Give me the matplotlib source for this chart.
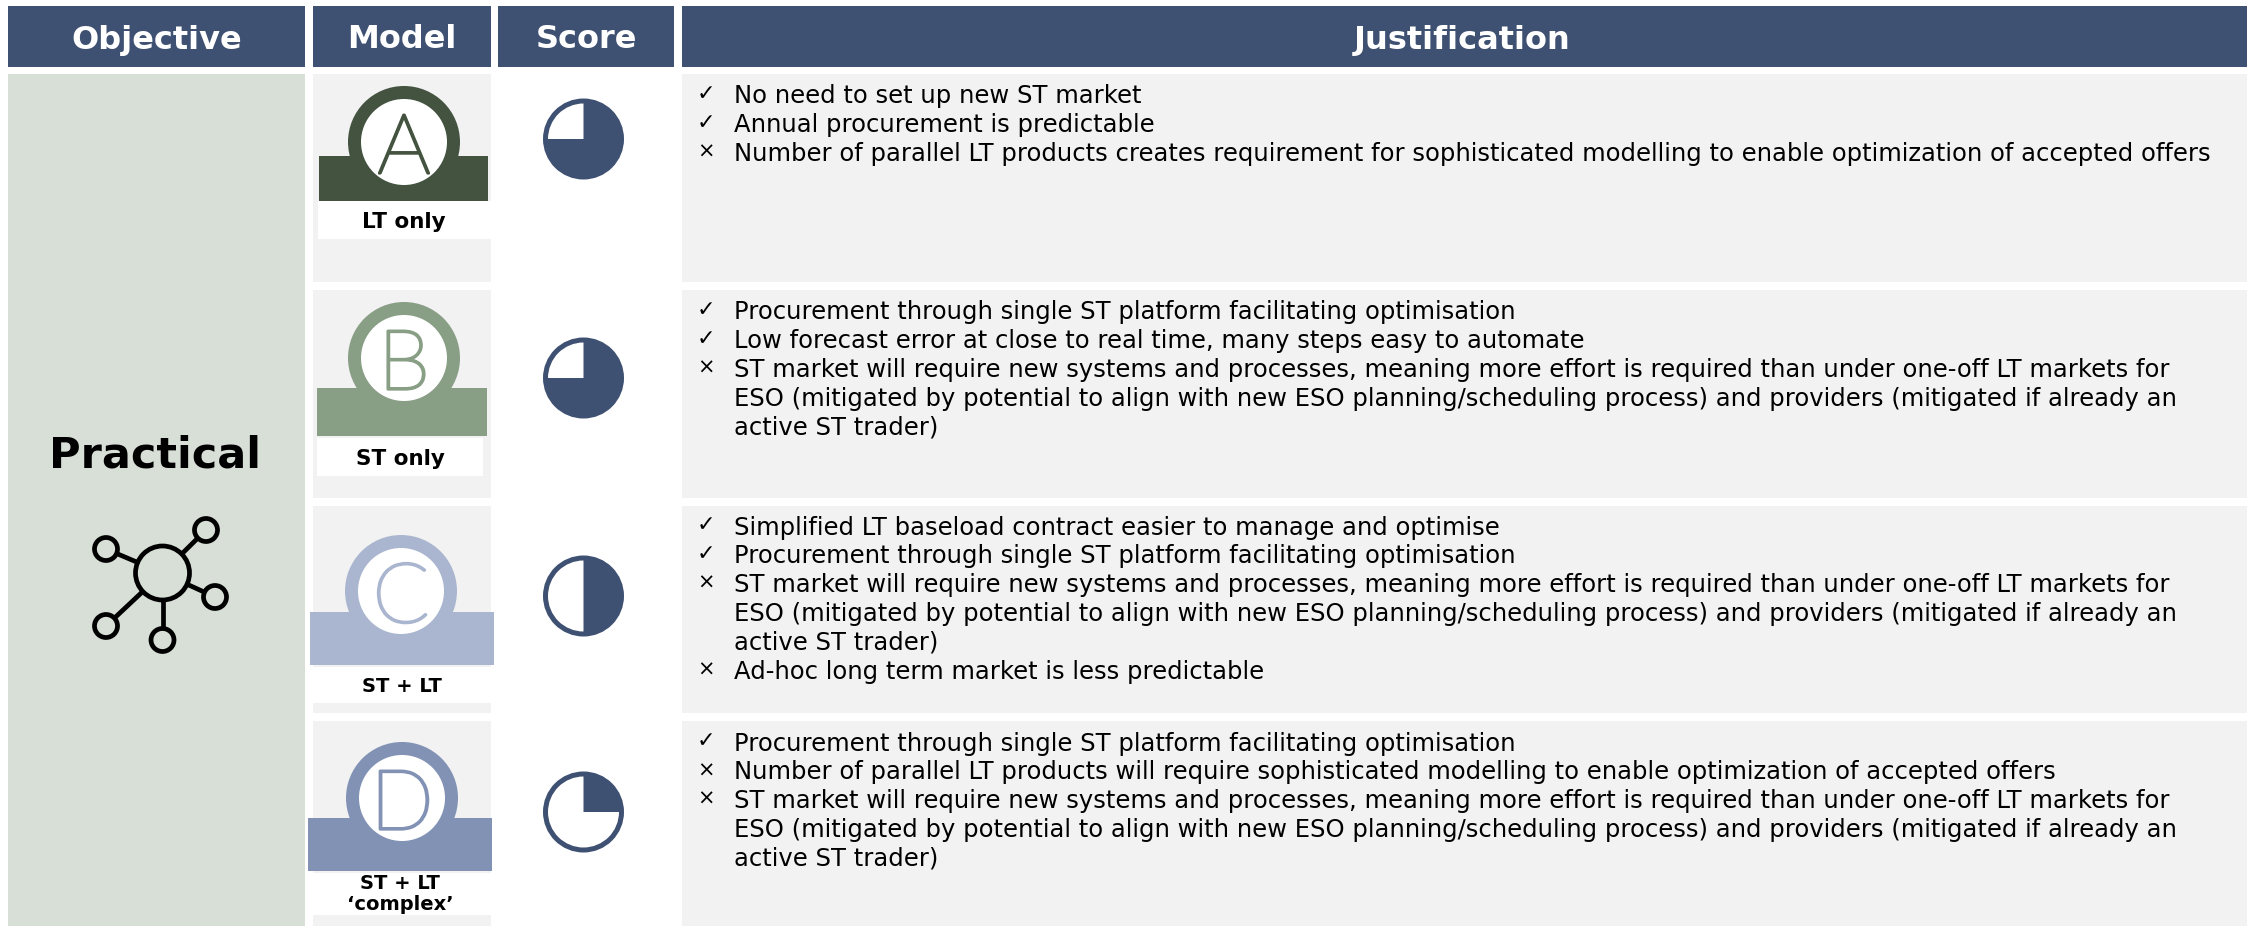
import matplotlib
matplotlib.use("Agg")
import matplotlib.pyplot as plt
import matplotlib.patheffects as pe
from matplotlib.patches import Rectangle, Circle, Wedge

# ------------------------------------------------------------
# Table content
# ------------------------------------------------------------
HEADERS = ["Objective", "Model", "Score", "Justification"]
OBJECTIVE = "Practical"
MODELS = ["A", "B", "C", "D"]
MODEL_LABELS = ["LT only", "ST only", "ST + LT", "ST + LT\n\u2018complex\u2019"]
SCORES = [0.75, 0.75, 0.50, 0.25]

LONG_ST = [
    "ST market will require new systems and processes, meaning more effort is required than under one-off LT markets for",
    "ESO (mitigated by potential to align with new ESO planning/scheduling process) and providers (mitigated if already an",
    "active ST trader)",
]
ROW_A = ["No need to set up new ST market",
         "Annual procurement is predictable",
         "Number of parallel LT products creates requirement for sophisticated modelling to enable optimization of accepted offers"]
MARK_A = ["y", "y", "n"]
ROW_B = ["Procurement through single ST platform facilitating optimisation",
         "Low forecast error at close to real time, many steps easy to automate"] + LONG_ST
MARK_B = ["y", "y", "n", "", ""]
ROW_C = ["Simplified LT baseload contract easier to manage and optimise",
         "Procurement through single ST platform facilitating optimisation"] + LONG_ST + [
         "Ad-hoc long term market is less predictable"]
MARK_C = ["y", "y", "n", "", "", "n"]
ROW_D = ["Procurement through single ST platform facilitating optimisation",
         "Number of parallel LT products will require sophisticated modelling to enable optimization of accepted offers"] + LONG_ST
MARK_D = ["y", "n", "n", "", ""]
ROW_TEXT = [ROW_A, ROW_B, ROW_C, ROW_D]
ROW_MARKS = [MARK_A, MARK_B, MARK_C, MARK_D]

# ------------------------------------------------------------
# Layout in reference pixels, colours
# ------------------------------------------------------------
NAVY = "#3F5172"
GREY = "#F2F2F2"
SAGE = "#D8DFD7"
MODEL_COLORS = ["#435340", "#889E85", "#AAB6CF", "#8192B5"]

COLS = [(8, 305), (313, 491), (498, 674), (682, 2247)]
ROWS = [(74, 282), (290, 498), (506, 713), (721, 926)]
CIRCLE_XY = [(404, 142), (404, 358), (401, 591), (402, 798)]
BANDS = [(319, 488, 156, 201), (317, 487, 388, 436), (310, 494, 612, 665), (308, 492, 818, 871)]
LABEL_BOX = [(318, 491, 201, 239), (317, 483, 438, 476), (313, 491, 667, 703), (313, 491, 873, 915)]
LABEL_XY = [(404, 222), (400, 459), (402, 686), (400, 894)]
PIE_XY = [(583.5, 139), (583.5, 378), (583.5, 596), (583.5, 812)]
FIRST_LINE = [96.5, 312.5, 527.5, 743.5]
LINE_STEP = 28.8

fig = plt.figure(figsize=(22.47, 9.26), dpi=100)
ax = fig.add_axes([0, 0, 1, 1])
ax.set_xlim(0, 2247)
ax.set_ylim(926, 0)
ax.axis("off")


def box(x0, x1, y0, y1, color, z=1):
    ax.add_patch(Rectangle((x0, y0), x1 - x0, y1 - y0, facecolor=color, edgecolor="none", zorder=z))


# headers
for (x0, x1), name in zip(COLS, HEADERS):
    box(x0, x1, 6, 66.5, NAVY)
    xc = (x0 + x1) / 2 if name != "Justification" else 1462
    ax.text(xc, 40, name, color="white", fontsize=23, fontweight="bold", ha="center", va="center", zorder=3)

# objective column
box(COLS[0][0], COLS[0][1], ROWS[0][0], 926, SAGE)
ax.text(155, 455, OBJECTIVE, fontsize=31, fontweight="bold", color="black", ha="center", va="center", zorder=3)

# network icon
HUB = (162.5, 573)
SATS = [(106, 549), (206, 530), (215, 597), (106, 626), (162.5, 640)]
for sx, sy in SATS:
    ax.plot([HUB[0], sx], [HUB[1], sy], color="black", lw=3.4, zorder=3, solid_capstyle="butt")
    ax.add_patch(Circle((sx, sy), 11.5, facecolor=SAGE, edgecolor="black", lw=3.4, zorder=4))
ax.add_patch(Circle(HUB, 27, facecolor=SAGE, edgecolor="black", lw=3.4, zorder=4))

for i in range(4):
    y0, y1 = ROWS[i]
    box(COLS[1][0], COLS[1][1], y0, y1, GREY)
    box(COLS[3][0], COLS[3][1], y0, y1, GREY)

    # model badge
    c = MODEL_COLORS[i]
    cx, cy = CIRCLE_XY[i]
    lb = LABEL_BOX[i]
    box(lb[0], lb[1], lb[2], lb[3], "white", z=2)
    ax.add_patch(Circle((cx, cy), 56, facecolor=c, edgecolor="none", zorder=3))
    b = BANDS[i]
    box(b[0], b[1], b[2], b[3], c, z=3)
    ax.add_patch(Circle((cx, cy), 43, facecolor="white", edgecolor="none", zorder=4))
    # the installed Lato light comes out hairline thin, so thicken it a bit
    ax.text(cx, cy + 9, MODELS[i], color=c, fontsize=60, family="Lato", fontweight="light",
            ha="center", va="center", zorder=5,
            path_effects=[pe.withStroke(linewidth=2.0, foreground=c)])
    ax.text(LABEL_XY[i][0], LABEL_XY[i][1], MODEL_LABELS[i], fontsize=15.5 if i < 2 else 14,
            fontweight="bold", color="black", ha="center", va="center", linespacing=1.15, zorder=5)

    # score pie, filled share runs clockwise from 12 o'clock
    px, py = PIE_XY[i]
    ax.add_patch(Circle((px, py), 38, facecolor="white", edgecolor=NAVY, lw=3.6, zorder=3))
    # y axis is inverted, so wedge angles run clockwise on screen
    ax.add_patch(Wedge((px, py), 38, -90, -90 + 360 * SCORES[i], facecolor=NAVY, edgecolor="none", zorder=4))

    # justification lines
    for j, (mark, line) in enumerate(zip(ROW_MARKS[i], ROW_TEXT[i])):
        y = FIRST_LINE[i] + j * LINE_STEP
        if mark == "y":
            ax.text(706, y - 2, "\u2713", fontsize=16, color="black", ha="center", va="center", zorder=5)
        elif mark == "n":
            ax.text(706, y - 2, "\u00d7", fontsize=15, color="black", ha="center", va="center", zorder=5)
        ax.text(733.5, y, line, fontsize=17.5, color="black", ha="left", va="center", zorder=5)

fig.savefig("out.png", dpi=100)
plt.close(fig)
